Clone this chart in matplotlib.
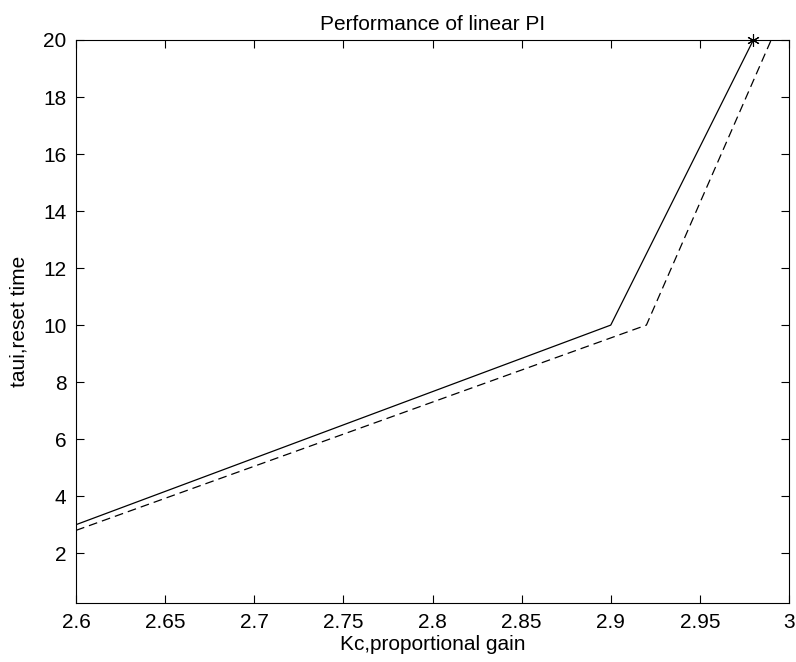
import numpy as np
import matplotlib
matplotlib.use('Agg')
import matplotlib.pyplot as plt
from matplotlib import rcParams
rcParams['font.family'] = ['Liberation Sans', 'DejaVu Sans']
rcParams['font.size'] = 15

# 実線（線形PI）
kc_solid = [2.6, 2.9, 2.98]
taui_solid = [3, 10, 20]
# 破線
kc_dash = [2.6, 2.92, 2.99]
taui_dash = [2.8, 10, 20]
# 最適点
kc_star = [2.98]
taui_star = [20]

fig = plt.figure(figsize=(7.96, 6.62), dpi=100)
ax = fig.add_axes([0.0955, 0.089, 0.8957, 0.8506])
ax.plot(kc_solid, taui_solid, 'k-', linewidth=0.9)
ax.plot(kc_dash, taui_dash, 'k--', linewidth=0.9, dashes=(7, 4))
# MATLABの'*'マーカー（アスタリスク）
ax.plot(kc_star, taui_star, linestyle='none', marker=(6, 2, 0), color='k',
        markersize=9, markeredgewidth=0.8, clip_on=False)
ax.set_xlim(2.6, 3)
ax.set_ylim(0.25, 20)
ax.set_xticks(np.arange(2.6, 3.001, 0.05))
ax.set_xticklabels(['2.6', '2.65', '2.7', '2.75', '2.8', '2.85', '2.9', '2.95', '3'])
ax.set_yticks(range(2, 21, 2))
ax.tick_params(direction='in', top=True, right=True, length=6, width=0.8, pad=7)
for s in ax.spines.values():
    s.set_linewidth(0.8)
ax.set_title("Performance of linear PI", fontsize=15, pad=7)
ax.set_xlabel("Kc,proportional gain", labelpad=2)
ax.set_ylabel("taui,reset time")
ax.yaxis.set_label_coords(-0.067, 0.5)
fig.savefig('out.png')
plt.close()
